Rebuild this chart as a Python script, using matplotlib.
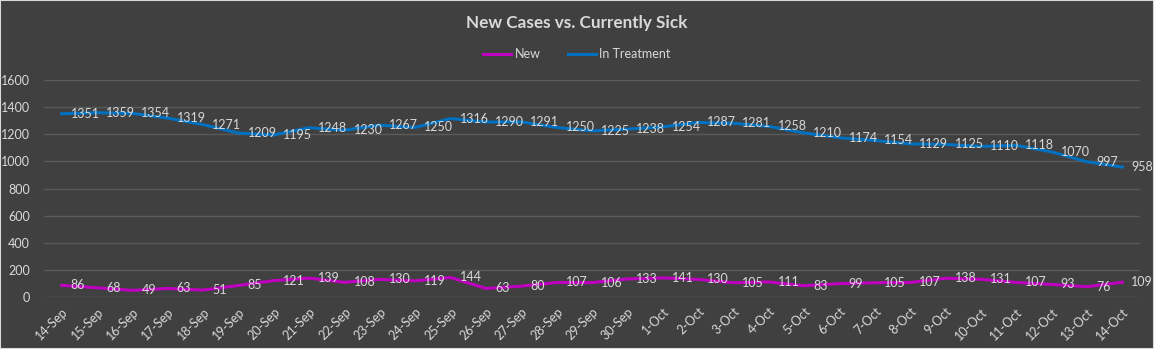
import matplotlib.pyplot as plt
import matplotlib.patches as mpatches
from matplotlib import rcParams
rcParams['font.family'] = ['Lato', 'DejaVu Sans']

days = ['14-Sep', '15-Sep', '16-Sep', '17-Sep', '18-Sep', '19-Sep', '20-Sep', '21-Sep',
        '22-Sep', '23-Sep', '24-Sep', '25-Sep', '26-Sep', '27-Sep', '28-Sep', '29-Sep',
        '30-Sep', '1-Oct', '2-Oct', '3-Oct', '4-Oct', '5-Oct', '6-Oct', '7-Oct', '8-Oct',
        '9-Oct', '10-Oct', '11-Oct', '12-Oct', '13-Oct', '14-Oct']
new_cases = [86, 68, 49, 63, 51, 85, 121, 139, 108, 130, 119, 144, 63, 80, 107, 106,
             133, 141, 130, 105, 111, 83, 99, 105, 107, 138, 131, 107, 93, 76, 109]
in_treatment = [1351, 1359, 1354, 1319, 1271, 1209, 1195, 1248, 1230, 1267, 1250, 1316,
                1290, 1291, 1250, 1225, 1238, 1254, 1287, 1281, 1258, 1210, 1174, 1154,
                1129, 1125, 1110, 1118, 1070, 997, 958]
yticks = [0, 200, 400, 600, 800, 1000, 1200, 1400, 1600]

bg = '#404040'
txt = '#d9d9d9'
fig = plt.figure(figsize=(11.54, 3.49), dpi=100, facecolor=bg)
ax = fig.add_axes([44/1154, 1-297/349, (1140-44)/1154, (297-80)/349])
ax.set_facecolor(bg)

x = list(range(len(days)))
ax.plot(x, new_cases, color='#c000c0', lw=2.2, solid_joinstyle='round', label='New')
ax.plot(x, in_treatment, color='#0070c0', lw=2.2, solid_joinstyle='round', label='In Treatment')

# data labels sit to the right of each point
for series in (new_cases, in_treatment):
    for i, v in enumerate(series):
        ax.annotate(str(v), (i, v), xytext=(6.5, 0), textcoords='offset points',
                    ha='left', va='center', color=txt, fontsize=9)

ax.set_xlim(-0.5, len(days) - 0.5)
ax.set_ylim(0, 1600)
ax.set_yticks(yticks)
ax.set_xticks(x)
ax.set_xticklabels(days, rotation=45, ha='right', rotation_mode='anchor')
ax.tick_params(axis='both', length=0, colors=txt, labelsize=9)
ax.tick_params(axis='y', pad=10)
ax.tick_params(axis='x', pad=6)
ax.grid(axis='y', color='#5a5a5a', lw=1)
ax.set_axisbelow(True)
for s in ax.spines.values():
    s.set_visible(False)

fig.text(0.5, 1-23/349, 'New Cases vs. Currently Sick', ha='center', va='center',
         color=txt, fontsize=12.3, fontweight='bold')
fig.legend(loc='center', bbox_to_anchor=(0.5, 1-54/349), ncol=2, frameon=False,
           labelcolor=txt, fontsize=9, handlelength=2.2, columnspacing=2.2, handletextpad=0.3)

fig.patches.append(mpatches.Rectangle((0, 0), 1, 1, transform=fig.transFigure,
                                      fill=False, ec='#d9d9d9', lw=1.5))

plt.savefig('out.png', facecolor=bg)
